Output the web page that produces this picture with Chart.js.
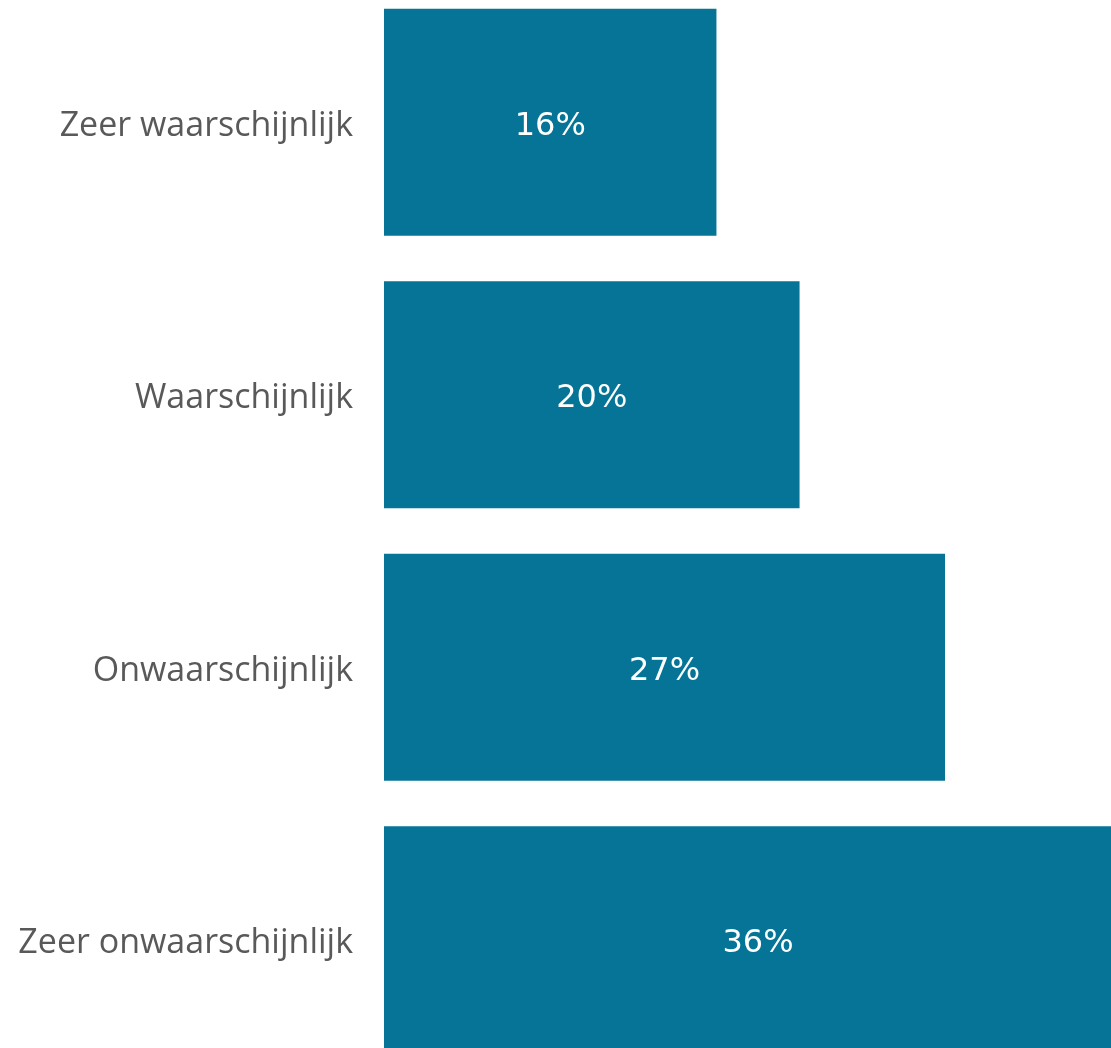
<!DOCTYPE html>
<html>
<head>
<meta charset="utf-8">
<script src="https://cdn.jsdelivr.net/npm/chart.js@4/dist/chart.umd.min.js"></script>
<style>
  html, body { margin: 0; padding: 0; background: #fff; overflow: hidden; }
  #wrap { position: relative; width: 1111px; height: 1048px; overflow: hidden; }
  #chart { position: absolute; left: 0; top: -14px; }
</style>
</head>
<body>
<div id="wrap">
  <canvas id="chart" width="1132" height="1090"></canvas>
</div>
<script>
// Chart data
const categories = ['Zeer waarschijnlijk', 'Waarschijnlijk', 'Onwaarschijnlijk', 'Zeer onwaarschijnlijk'];
const percentages = [16, 20, 27, 36];
const xMax = 36;

const barColor = '#057496';
const labelColor = '#595959';

// Draws the value in the middle of each bar
const barValueLabels = {
    id: 'barValueLabels',
    afterDatasetsDraw(chart) {
        const ctx = chart.ctx;
        const meta = chart.getDatasetMeta(0);
        ctx.save();
        ctx.fillStyle = '#ffffff';
        ctx.font = '32px "DejaVu Sans", sans-serif';
        ctx.textAlign = 'center';
        ctx.textBaseline = 'middle';
        meta.data.forEach(function(bar, i) {
            const cx = (bar.base + bar.x) / 2;
            ctx.fillText(percentages[i] + '%', cx, bar.y + 4);
        });
        ctx.restore();
    }
};

const canvas = document.getElementById('chart');
new Chart(canvas, {
    type: 'bar',
    data: {
        labels: categories,
        datasets: [{
            data: percentages,
            backgroundColor: barColor,
            borderWidth: 0,
            categoryPercentage: 1,
            barPercentage: 0.833
        }]
    },
    options: {
        indexAxis: 'y',
        responsive: false,
        animation: false,
        layout: { padding: 0 },
        plugins: {
            legend: { display: false },
            tooltip: { enabled: false }
        },
        scales: {
            x: {
                display: false,
                min: 0,
                max: xMax
            },
            y: {
                grid: { display: false },
                border: { display: false },
                ticks: {
                    color: labelColor,
                    padding: 23,
                    labelOffset: 4,
                    font: { family: '"Open Sans", sans-serif', size: 34 }
                },
                afterFit(scale) {
                    // keep the full canvas height for the bars
                    scale.width = 384;
                    scale.paddingTop = 0;
                    scale.paddingBottom = 0;
                }
            }
        }
    },
    plugins: [barValueLabels]
});
</script>
</body>
</html>
